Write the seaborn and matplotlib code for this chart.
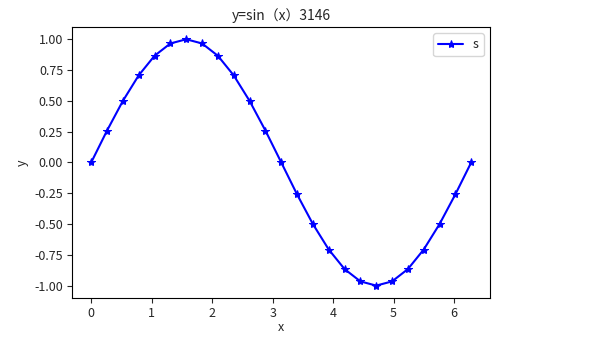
import matplotlib
matplotlib.use("Agg")
import matplotlib.pyplot as plt
import seaborn as sns
import pandas as pd

x_vals = [0.000, 0.262, 0.524, 0.785, 1.047, 1.309, 1.571, 1.833, 2.094, 2.356,
          2.618, 2.880, 3.142, 3.403, 3.665, 3.927, 4.189, 4.451, 4.712, 4.974,
          5.236, 5.498, 5.760, 6.021, 6.283]
y_vals = [0.000, 0.259, 0.500, 0.707, 0.866, 0.966, 1.000, 0.966, 0.866, 0.707,
          0.500, 0.259, 0.000, -0.259, -0.500, -0.707, -0.866, -0.966, -1.000, -0.966,
          -0.866, -0.707, -0.500, -0.259, 0.000]
series_name = "s"
title_text = "y=sin（x）3146"

sns.set_style("ticks")
plt.rcParams['font.family'] = ['Noto Sans CJK SC', 'DejaVu Sans']
plt.rcParams['axes.unicode_minus'] = False

df = pd.DataFrame({"x": x_vals, "y": y_vals})

fig = plt.figure(figsize=(6.12, 3.37), dpi=100)
ax = fig.add_axes([0.118, 0.116, 0.683, 0.804])
sns.lineplot(data=df, x="x", y="y", ax=ax, color="blue", marker="*",
             markersize=6, markeredgecolor="blue", linewidth=1.5, label=series_name)
ax.set_title(title_text, fontsize=10, pad=5)
ax.set_xlabel("x", fontsize=9, labelpad=1)
ax.set_ylabel("y", fontsize=9)
ax.tick_params(labelsize=9, pad=3)
yt = [-1.0, -0.75, -0.5, -0.25, 0.0, 0.25, 0.5, 0.75, 1.0]
ax.set_yticks(yt)
ax.set_yticklabels(["%.2f" % v for v in yt])
ax.legend(loc="upper right", fontsize=9)
for s in ax.spines.values():
    s.set_visible(True)
    s.set_color("black")
    s.set_linewidth(0.8)
fig.savefig("out.png", dpi=100)
